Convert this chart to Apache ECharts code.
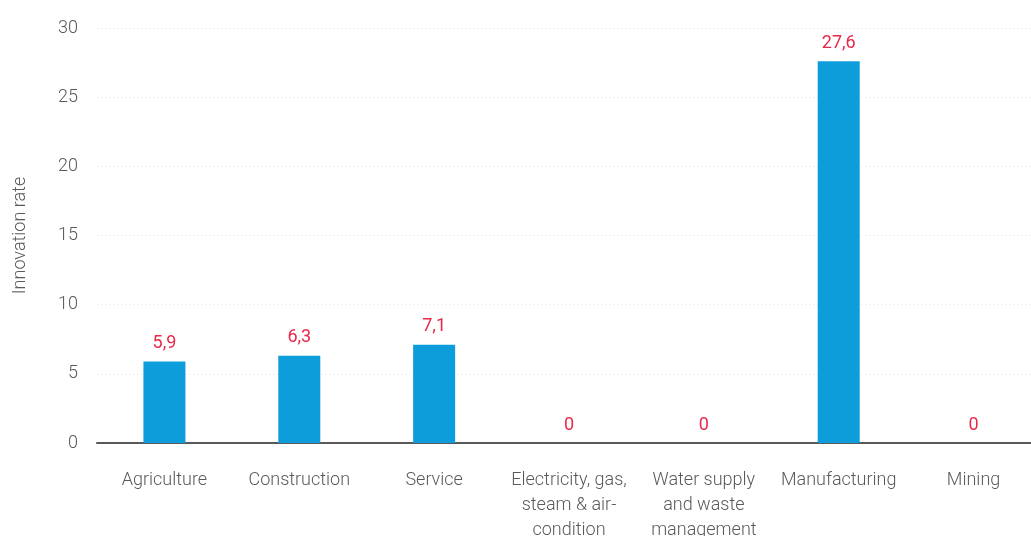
<!DOCTYPE html>
<html>
<head>
<meta charset="utf-8">
<script src="https://cdn.jsdelivr.net/npm/echarts@6/dist/echarts.min.js"></script>
<style>
  html, body { margin: 0; padding: 0; background: #fff; }
  #chart { width: 1031px; height: 536px; }
</style>
</head>
<body>
<div id="chart"></div>
<script>
// Sectors (labels wrap as shown under the axis)
const categories = [
  'Agriculture',
  'Construction',
  'Service',
  'Electricity, gas,\nsteam & air-\ncondition',
  'Water supply\nand waste\nmanagement',
  'Manufacturing',
  'Mining'
];
// Innovation rate per sector
const innovationRate = [5.9, 6.3, 7.1, 0, 0, 27.6, 0];
// Y axis range
const yMin = 0;
const yMax = 30;
const yStep = 5;

const FONT = 'Roboto';
const chart = echarts.init(document.getElementById('chart'), null, { renderer: 'canvas' });

chart.setOption({
  animation: false,
  backgroundColor: '#ffffff',
  grid: {
    left: 97, right: -10, top: 28, bottom: 93,
    containLabel: false,
    outerBoundsMode: 'none'
  },
  xAxis: {
    type: 'category',
    data: categories,
    axisLine: { show: true, lineStyle: { color: '#595959', width: 2 } },
    axisTick: { show: false },
    axisLabel: {
      color: '#595959',
      fontFamily: FONT,
      fontWeight: 300,
      fontSize: 18,
      lineHeight: 25,
      margin: 25,
      interval: 0
    },
    splitLine: { show: false }
  },
  yAxis: {
    type: 'value',
    min: yMin,
    max: yMax,
    interval: yStep,
    name: 'Innovation rate',
    nameLocation: 'middle',
    nameGap: 68,
    nameTextStyle: { color: '#595959', fontFamily: FONT, fontWeight: 300, fontSize: 18 },
    axisLine: { show: false },
    axisTick: { show: false },
    axisLabel: {
      color: '#595959',
      fontFamily: FONT,
      fontWeight: 300,
      fontSize: 18,
      margin: 19
    },
    splitLine: { show: true, lineStyle: { color: '#e3e3e3', type: [1, 3], width: 1 } }
  },
  series: [{
    type: 'bar',
    data: innovationRate,
    barWidth: 42,
    itemStyle: { color: '#0d9dda' },
    label: {
      show: true,
      position: 'top',
      distance: 9,
      color: '#e8294a',
      fontFamily: FONT,
      fontWeight: 400,
      fontSize: 18,
      formatter: p => String(p.value).replace('.', ',')
    }
  }]
});
</script>
</body>
</html>
